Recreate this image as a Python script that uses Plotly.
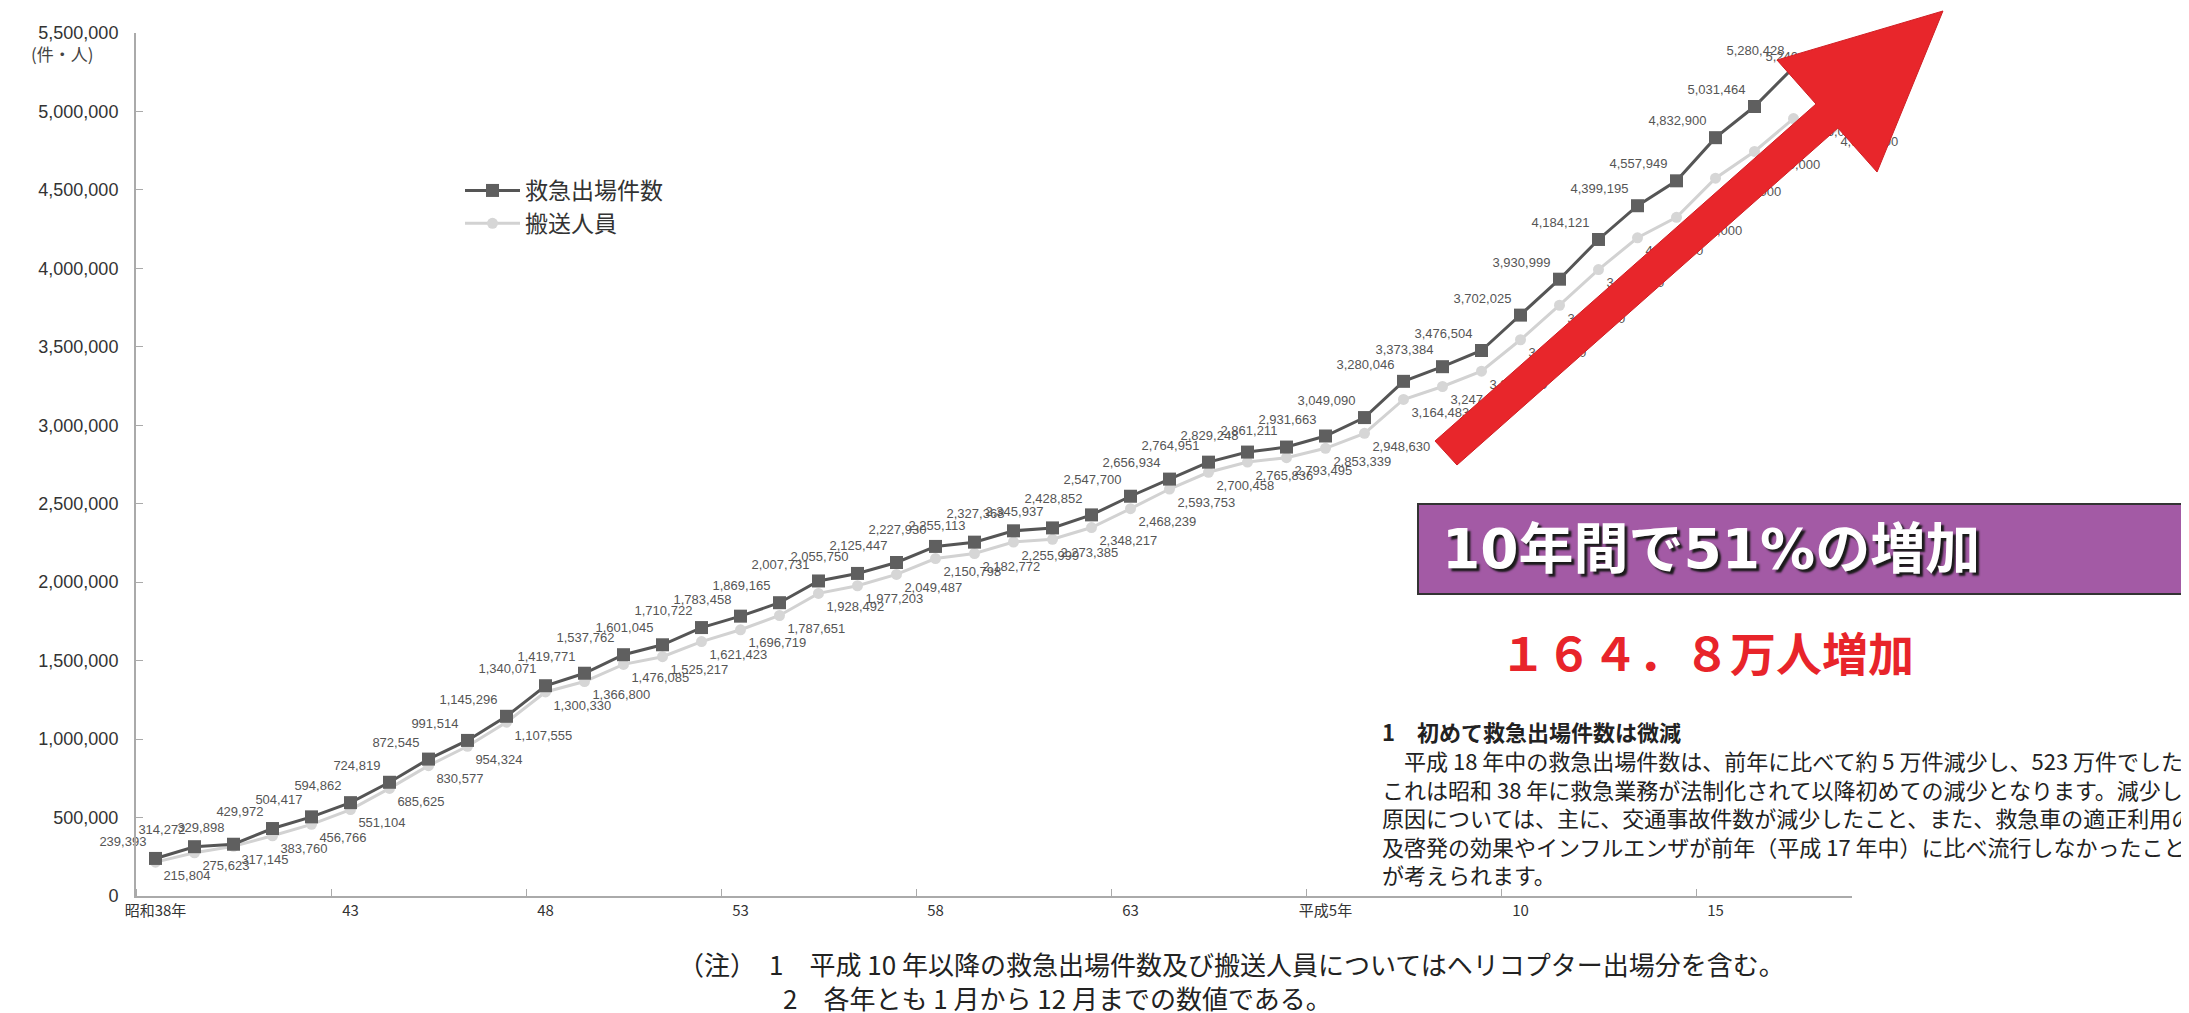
import plotly.graph_objects as go

W, H = 2189, 1013
ML, MR, MT, MB = 128, 345, 25, 125

years_idx = list(range(44))  # 昭和38年(1963) .. 平成18年(2006)
tick_pos = [0, 5, 10, 15, 20, 25, 30, 35, 40]
tick_labels = ["昭和38年", "43", "48", "53", "58", "63", "平成5年", "10", "15"]

dispatches = [239393, 314272, 329898, 429972, 504417, 594862, 724819, 872545, 991514, 1145296,
              1340071, 1419771, 1537762, 1601045, 1710722, 1783458, 1869165, 2007731, 2055750, 2125447,
              2227930, 2255113, 2327368, 2345937, 2428852, 2547700, 2656934, 2764951, 2829248, 2861211,
              2931663, 3049090, 3280046, 3373384, 3476504, 3702025, 3930999, 4184121, 4399195, 4557949,
              4832900, 5031464, 5280428, 5240478]
transported = [215804, 275623, 317145, 383760, 456766, 551104, 685625, 830577, 954324, 1107555,
               1300330, 1366800, 1476085, 1525217, 1621423, 1696719, 1787651, 1928492, 1977203, 2049487,
               2150798, 2182772, 2255999, 2273385, 2348217, 2468239, 2593753, 2700458, 2765836, 2793495,
               2853339, 2948630, 3164483, 3247120, 3345000, 3545000, 3765000, 3992000, 4195000, 4325000,
               4575000, 4745000, 4955000, 4895000]

yticks = list(range(0, 5500001, 500000))

fig = go.Figure()
fig.add_trace(go.Scatter(
    x=years_idx, y=transported, name="搬送人員", mode="lines+markers+text",
    line=dict(color="#d2d2d2", width=3),
    marker=dict(symbol="circle", size=11, color="#d6d6d6"),
    text=[f"{v:,}" for v in transported], textposition="bottom right",
    textfont=dict(family="Liberation Sans, Arial", size=13, color="#555"),
    cliponaxis=False, hoverinfo="skip"))
fig.add_trace(go.Scatter(
    x=years_idx, y=dispatches, name="救急出場件数", mode="lines+markers+text",
    line=dict(color="#555555", width=3),
    marker=dict(symbol="square", size=13, color="#5f5f5f"),
    text=[f"{v:,}" for v in dispatches], textposition="top left",
    textfont=dict(family="Liberation Sans, Arial", size=13, color="#555"),
    cliponaxis=False, hoverinfo="skip"))

pw, ph = W - ML - MR, H - MT - MB
def px(x):
    return (x - ML) / pw
def py(y):
    return (H - MB - y) / ph

# red arrow
arrow_pts = [(1427, 433), (1808, 96), (1769, 52), (1935, 3), (1869, 164), (1830, 120), (1449, 457)]
path = "M " + " L ".join(f"{px(a):.4f},{py(b):.4f}" for a, b in arrow_pts) + " Z"
shapes = [
    dict(type="path", xref="paper", yref="paper", path=path,
         fillcolor="#e8262b", line=dict(color="#d01f24", width=1), layer="above"),
    dict(type="rect", xref="paper", yref="paper", x0=px(1410), x1=px(2200), y0=py(586), y1=py(496),
         fillcolor="#a35aa5", line=dict(color="#333333", width=2), layer="above"),
]

cjk = "Noto Sans CJK JP"
annotations = [
    dict(text="(件・人)", xref="paper", yref="paper", x=px(54), y=py(46), xanchor="center",
         yanchor="middle", showarrow=False, font=dict(family=cjk, size=17, color="#444")),
    dict(text="<b>10年間で51%の増加</b>", xref="paper", yref="paper", x=px(1432), y=py(541),
         xanchor="left", yanchor="middle", showarrow=False,
         font=dict(family="DejaVu Sans, " + cjk, size=55, color="white", shadow="3px 3px 2px #1a1a1a")),
    dict(text="<b>１６４．８万人増加</b>", xref="paper", yref="paper", x=px(1490), y=py(643),
         xanchor="left", yanchor="middle", showarrow=False,
         font=dict(family=cjk, size=46, color="#e8242a")),
    dict(text="<b>1　初めて救急出場件数は微減</b>", xref="paper", yref="paper", x=px(1372), y=py(723),
         xanchor="left", yanchor="middle", showarrow=False,
         font=dict(family=cjk, size=22, color="#222")),
]
body = ["　平成 18 年中の救急出場件数は、前年に比べて約 5 万件減少し、523 万件でした。",
        "これは昭和 38 年に救急業務が法制化されて以降初めての減少となります。減少した",
        "原因については、主に、交通事故件数が減少したこと、また、救急車の適正利用の普",
        "及啓発の効果やインフルエンザが前年（平成 17 年中）に比べ流行しなかったことなど",
        "が考えられます。"]
for i, line in enumerate(body):
    annotations.append(dict(text=line, xref="paper", yref="paper", x=px(1372), y=py(752 + i * 28.5),
                            xanchor="left", yanchor="middle", showarrow=False,
                            font=dict(family=cjk, size=22, color="#222")))
annotations += [
    dict(text="（注）　1　平成 10 年以降の救急出場件数及び搬送人員についてはヘリコプター出場分を含む。",
         xref="paper", yref="paper", x=px(668), y=py(955), xanchor="left", yanchor="middle",
         showarrow=False, font=dict(family=cjk, size=26, color="#222")),
    dict(text="2　各年とも 1 月から 12 月までの数値である。",
         xref="paper", yref="paper", x=px(773), y=py(990), xanchor="left", yanchor="middle",
         showarrow=False, font=dict(family=cjk, size=26, color="#222")),
]

fig.update_layout(
    width=W, height=H, margin=dict(l=ML, r=MR, t=MT, b=MB),
    paper_bgcolor="white", plot_bgcolor="white",
    showlegend=True,
    legend=dict(x=px(452), y=py(161), xanchor="left", yanchor="top", bgcolor="rgba(0,0,0,0)",
                font=dict(family=cjk, size=23, color="#333"), itemwidth=55, tracegroupgap=0,
                traceorder="reversed"),
    shapes=shapes, annotations=annotations,
    font=dict(family="Liberation Sans, Arial", color="#333"),
)
fig.update_xaxes(range=[-0.5, 43.5], tickmode="array", tickvals=tick_pos, ticktext=tick_labels,
                 ticks="", showgrid=False, zeroline=False, showline=True, linecolor="#aaaaaa", linewidth=2,
                 tickfont=dict(family=cjk, size=15, color="#333"),
                 minor=dict(tickmode="linear", tick0=-0.5, dtick=5, ticks="inside", ticklen=7,
                            tickcolor="#aaaaaa", showgrid=False))
fig.update_yaxes(range=[0, 5500000], tickmode="array", tickvals=yticks,
                 ticktext=[f"{v:,}" for v in yticks], ticks="inside", ticklen=7, tickcolor="#aaaaaa",
                 showgrid=False, zeroline=False, showline=True, linecolor="#aaaaaa", linewidth=2,
                 ticklabelstandoff=12,
                 tickfont=dict(family="Liberation Sans, Arial", size=18, color="#333"))

fig.write_html("out.html")
